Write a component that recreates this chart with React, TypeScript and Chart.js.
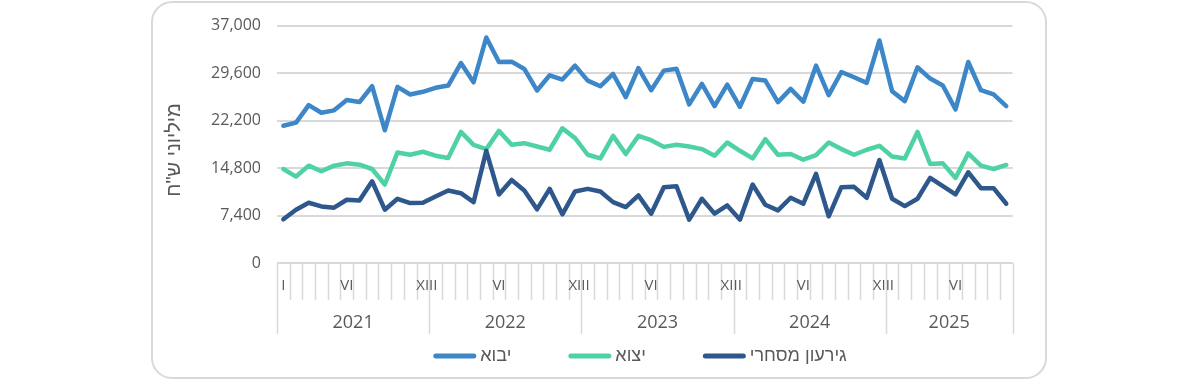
import React, { useEffect, useRef } from "react";
import { Chart, registerables } from "chart.js";

Chart.register(...registerables);

// ---------- data ----------
const years = ["2021", "2022", "2023", "2024", "2025"];
const monthsPerYear = [12, 12, 12, 12, 10];
const romanMonthLabels = ["", "", "", "", "", "VI", "", "", "", "", "", "XIII"];
const firstMonthLabel = "I";

const imports = [
  21400, 21870, 24610, 23420, 23790, 25390, 25080, 27550, 20690, 27450, 26270, 26680,
  27300, 27660, 31160, 28170, 35140, 31320, 31380, 30240, 26890, 29260, 28590, 30760,
  28430, 27550, 29460, 25850, 30390, 26930, 29980, 30290, 24720, 27910, 24460, 27810,
  24350, 28690, 28430, 25080, 27140, 25130, 30760, 26160, 29770, 28950, 28070, 34680,
  26780, 25230, 30500, 28740, 27660, 23940, 31320, 26930, 26270, 24460,
];
const exportsData = [
  14650, 13470, 15170, 14290, 15170, 15530, 15330, 14650, 12230, 17230, 16870, 17340,
  16720, 16360, 20430, 18420, 17750, 20590, 18420, 18680, 18160, 17650, 21000, 19460,
  16870, 16300, 19810, 16980, 19810, 19140, 18100, 18420, 18160, 17750, 16720, 18780,
  17490, 16300, 19300, 16870, 16980, 16100, 16820, 18780, 17750, 16870, 17650, 18270,
  16610, 16300, 20430, 15430, 15530, 13260, 17080, 15170, 14650, 15280,
];
const deficit = [
  6810, 8310, 9390, 8820, 8620, 9860, 9750, 12740, 8310, 10010, 9340, 9390,
  10370, 11300, 10880, 9490, 17490, 10680, 12950, 11300, 8360, 11560, 7590, 11150,
  11560, 11150, 9490, 8720, 10530, 7690, 11820, 11970, 6760, 10010, 7690, 8980,
  6760, 12230, 9080, 8200, 10170, 9240, 13880, 7280, 11820, 11870, 10170, 16050,
  10010, 8870, 10010, 13260, 11970, 10680, 14140, 11660, 11660, 9240,
];

const seriesNames = ["יבוא", "יצוא", "גירעון מסחרי"];
const seriesColors = ["#3d87c9", "#4fd2a3", "#2e578c"];
const yTitle = 'מיליוני ש"ח';
const yMin = 0;
const yMax = 37000;
const yStep = 7400;

// categories built from years / months
const categories: string[] = [];
const monthLabels: string[] = [];
years.forEach((yr, yi) => {
  for (let m = 0; m < monthsPerYear[yi]; m++) {
    categories.push(`${yr}-${m + 1}`);
    monthLabels.push(yi === 0 && m === 0 ? firstMonthLabel : romanMonthLabels[m]);
  }
});

const FONT = "'Open Sans', 'Liberation Sans', 'DejaVu Sans', sans-serif";
const HEB_FONT = "'Liberation Sans', 'DejaVu Sans', sans-serif";
const TEXT = "#595959";
const GRID = "#d9d9d9";

const decorPlugin = {
  id: "decor",
  beforeDraw(chart: any) {
    const ctx = chart.ctx;
    ctx.save();
    ctx.fillStyle = "#ffffff";
    ctx.fillRect(0, 0, chart.width, chart.height);
    ctx.strokeStyle = GRID;
    ctx.lineWidth = 2;
    ctx.beginPath();
    ctx.roundRect(152, 2, 894, 376, 20);
    ctx.stroke();
    ctx.restore();
  },
  afterDraw(chart: any) {
    const ctx = chart.ctx;
    const x = chart.scales.x;
    const area = chart.chartArea;
    const n = categories.length;
    const bottom = area.bottom;
    const bound = (i: number) => {
      if (i <= 0) return area.left;
      if (i >= n) return area.right;
      return (x.getPixelForValue(i - 1) + x.getPixelForValue(i)) / 2;
    };
    ctx.save();
    // axis line
    ctx.strokeStyle = GRID;
    ctx.lineWidth = 2;
    ctx.beginPath();
    ctx.moveTo(area.left, bottom);
    ctx.lineTo(area.right, bottom);
    ctx.stroke();
    // year boundaries
    const yearStarts: number[] = [];
    let acc = 0;
    monthsPerYear.forEach((c) => {
      yearStarts.push(acc);
      acc += c;
    });
    yearStarts.push(acc);
    ctx.lineWidth = 1.5;
    for (let i = 0; i <= n; i++) {
      const isYear = yearStarts.includes(i);
      const px = Math.round(bound(i)) + 0.5;
      ctx.beginPath();
      ctx.moveTo(px, bottom);
      ctx.lineTo(px, bottom + (isYear ? 71 : 37));
      ctx.stroke();
    }
    // month labels
    ctx.fillStyle = TEXT;
    ctx.textAlign = "center";
    ctx.textBaseline = "middle";
    ctx.font = `15px ${FONT}`;
    monthLabels.forEach((lab, i) => {
      if (!lab) return;
      const off = lab === "XIII" ? 4 : 0;
      ctx.fillText(lab, x.getPixelForValue(i) + off, bottom + 23);
    });
    // year labels
    ctx.font = `18px ${FONT}`;
    years.forEach((yr, yi) => {
      const cx = (bound(yearStarts[yi]) + bound(yearStarts[yi + 1])) / 2;
      ctx.fillText(yr, cx, bottom + 60);
    });
    // y title
    ctx.save();
    ctx.translate(174, 150);
    ctx.rotate(-Math.PI / 2);
    ctx.font = `20px ${HEB_FONT}`;
    ctx.fillText(yTitle, 0, 0);
    ctx.restore();
    // legend
    ctx.font = `18px ${HEB_FONT}`;
    const lineLen = 43;
    const gapText = 4;
    const gapItem = 57;
    const widths = seriesNames.map((s) => lineLen + gapText + ctx.measureText(s).width);
    const total = widths.reduce((a, b) => a + b, 0) + gapItem * (seriesNames.length - 1);
    let lx = 640 - total / 2;
    const ly = 356;
    seriesNames.forEach((s, i) => {
      ctx.strokeStyle = seriesColors[i];
      ctx.lineWidth = 5;
      ctx.lineCap = "round";
      ctx.beginPath();
      ctx.moveTo(lx + 2.5, ly);
      ctx.lineTo(lx + lineLen - 2.5, ly);
      ctx.stroke();
      ctx.fillStyle = TEXT;
      ctx.textAlign = "left";
      ctx.fillText(s, lx + lineLen + gapText, ly);
      lx += widths[i] + gapItem;
    });
    ctx.restore();
  },
};

export default function App() {
  const ref = useRef<HTMLCanvasElement | null>(null);
  useEffect(() => {
    if (!ref.current) return;
    const mk = (label: string, data: number[], color: string) => ({
      label,
      data,
      borderColor: color,
      backgroundColor: color,
      borderWidth: 4.5,
      pointRadius: 0,
      tension: 0,
      borderJoinStyle: "round" as const,
      borderCapStyle: "round" as const,
      fill: false,
    });
    const chart = new Chart(ref.current, {
      type: "line",
      data: {
        labels: categories,
        datasets: [
          mk(seriesNames[2], deficit, seriesColors[2]),
          mk(seriesNames[1], exportsData, seriesColors[1]),
          mk(seriesNames[0], imports, seriesColors[0]),
        ],
      },
      options: {
        responsive: false,
        animation: false,
        devicePixelRatio: 1,
        layout: { padding: { left: 0, right: 187.4, top: 24, bottom: 0 } },
        plugins: { legend: { display: false }, tooltip: { enabled: false } },
        scales: {
          x: {
            offset: true,
            grid: { display: false },
            border: { display: false },
            ticks: { display: false },
            afterFit: (s: any) => {
              s.height = 118;
            },
          },
          y: {
            min: yMin,
            max: yMax,
            grid: { color: GRID, lineWidth: 2, drawTicks: false },
            border: { display: false },
            ticks: {
              stepSize: yStep,
              padding: 16,
              color: TEXT,
              font: { family: FONT, size: 16 },
              callback: (v: any) => Number(v).toLocaleString("en-US"),
            },
            afterFit: (s: any) => {
              s.width = 277;
            },
          },
        },
      },
      plugins: [decorPlugin],
    });
    return () => chart.destroy();
  }, []);
  return (
    <div style={{ position: "absolute", left: 0, top: 0, width: 1200, height: 381 }}>
      <canvas ref={ref} width={1200} height={381} style={{ width: 1200, height: 381, display: "block" }} />
    </div>
  );
}
